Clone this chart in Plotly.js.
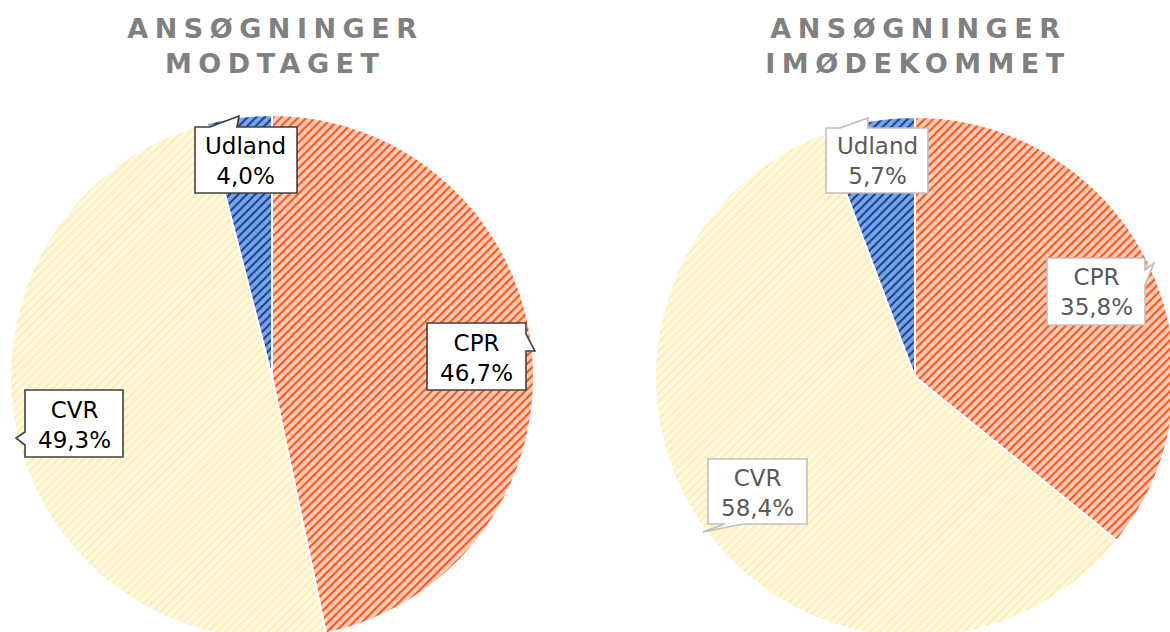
<!DOCTYPE html>
<html><head><meta charset="utf-8">
<script src="https://cdn.plot.ly/plotly-3.0.1.min.js"></script>
<style>html,body{margin:0;padding:0;overflow:hidden;background:#fff}#chart{width:1200px;height:660px}</style>
</head><body><div id="chart"></div>
<script>
const categories = ['CPR', 'CVR', 'Udland'];
const modtaget = [46.7, 49.3, 4.0];
const imodekommet = [35.8, 58.4, 5.7];
const titleLeft = ['ANSØGNINGER', 'MODTAGET'];
const titleRight = ['ANSØGNINGER', 'IMØDEKOMMET'];

const W = 1200, H = 660;
const px = x => x / W;
const py = y => 1 - y / H;

const bgColors = ['#FFCDB6', '#FFF9E2', '#7AA5E8'];
const fgColors = ['#FF5019', '#FFECB2', '#173F93'];

function pie(values, dom) {
  return {
    type: 'pie', values: values, labels: categories,
    sort: false, direction: 'clockwise', rotation: 0,
    textinfo: 'none', hoverinfo: 'label+percent', showlegend: false,
    marker: {
      colors: bgColors,
      line: {color: '#ffffff', width: 2},
      pattern: {shape: '/', fgcolor: fgColors, bgcolor: bgColors, size: 6, solidity: 0.36}
    },
    domain: dom
  };
}

const fmt = v => v.toFixed(1).replace('.', ',') + '%';

// callout boxes (pixel geometry): [left, top, right, bottom], tail path points
const leftBoxes = [
  {box: [427, 323, 526, 390], tail: {side: 'right', pts: [[526, 334], [535, 351], [526, 351]]}},
  {box: [25, 390, 123, 457], tail: {side: 'left', pts: [[25, 445], [16, 438], [25, 432]]}},
  {box: [195, 127, 297, 193], tail: {side: 'top', pts: [[210, 127], [239, 116], [237, 127]]}}
];
const rightBoxes = [
  {box: [1047, 258, 1145, 325], tail: {side: 'right', pts: [[1145, 270], [1154, 263], [1145, 285]]}},
  {box: [708, 459, 807, 524], tail: {side: 'bottom', pts: [[743, 524], [703, 532], [725, 524]]}},
  {box: [826, 128, 928, 193], tail: {side: 'top', pts: [[840, 128], [868, 118], [868, 128]]}}
];

function calloutPath(b) {
  const [l, t, r, btm] = b.box;
  const s = b.tail.side, p = b.tail.pts;
  let pts = [[l, t]];
  if (s === 'top') pts = pts.concat(p);
  pts.push([r, t]);
  if (s === 'right') pts = pts.concat(p);
  pts.push([r, btm]);
  if (s === 'bottom') pts = pts.concat(p);
  pts.push([l, btm]);
  if (s === 'left') pts = pts.concat(p);
  return 'M ' + pts.map(q => px(q[0]).toFixed(5) + ',' + py(q[1]).toFixed(5)).join(' L ') + ' Z';
}

const shapes = [];
const annotations = [];

// titles
function addTitle(lines, cx) {
  lines.forEach((ln, i) => {
    annotations.push({
      xref: 'paper', yref: 'paper', x: px(cx), y: py(28 + i * 36),
      xanchor: 'center', yanchor: 'middle', showarrow: false,
      text: ln,
      font: {family: 'DejaVu Sans', size: 27, color: '#808080', weight: 'bold', style: 'normal'}
    });
  });
}
addTitle(titleLeft, 272);
addTitle(titleRight, 915);

function addLabels(values, boxes, borderColor, textColor, bw) {
  values.forEach((v, i) => {
    const b = boxes[i];
    shapes.push({type: 'path', xref: 'paper', yref: 'paper', path: calloutPath(b),
      fillcolor: '#ffffff', line: {color: borderColor, width: bw}, layer: 'above'});
    annotations.push({
      xref: 'paper', yref: 'paper',
      x: px((b.box[0] + b.box[2]) / 2), y: py((b.box[1] + b.box[3]) / 2 + 1),
      xanchor: 'center', yanchor: 'middle', showarrow: false,
      text: categories[i] + '<br>' + fmt(v),
      font: {family: 'DejaVu Sans, Verdana, sans-serif', size: 23, color: textColor}
    });
  });
}
addLabels(modtaget, leftBoxes, '#404040', '#000000', 1.6);
addLabels(imodekommet, rightBoxes, '#BFBFBF', '#595959', 1.6);

const data = [
  pie(modtaget, {x: [px(10), px(534)], y: [py(639), py(115)]}),
  pie(imodekommet, {x: [px(655), px(1175)], y: [py(637), py(117)]})
];

const layout = {
  width: W, height: H,
  margin: {l: 0, r: 0, t: 0, b: 0},
  paper_bgcolor: '#ffffff', plot_bgcolor: '#ffffff',
  showlegend: false,
  shapes: shapes,
  annotations: annotations
};

Plotly.newPlot('chart', data, layout, {staticPlot: true, displayModeBar: false}).then(() => {
  for (let i = 0; i < 4; i++) {
    document.querySelectorAll('.annotation[data-index="' + i + '"] text').forEach(t => {
      t.style.letterSpacing = '6.5px';
      t.setAttribute('dx', '3');
    });
  }
});
</script>
</body></html>
